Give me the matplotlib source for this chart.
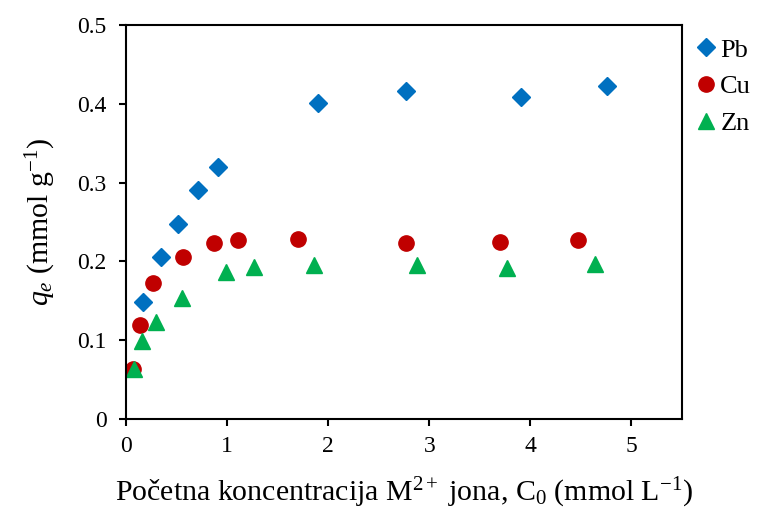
import matplotlib.pyplot as plt

plt.rcParams['font.family'] = ['Liberation Serif', 'DejaVu Serif']
plt.rcParams['mathtext.fontset'] = 'custom'
plt.rcParams['mathtext.rm'] = 'Liberation Serif'
plt.rcParams['mathtext.it'] = 'Liberation Serif:italic'

# initial concentration C0 (mmol/L) and uptake qe (mmol/g)
pb_c0 = [0.17, 0.35, 0.51, 0.71, 0.91, 1.90, 2.77, 3.91, 4.76]
pb_qe = [0.148, 0.206, 0.248, 0.291, 0.320, 0.401, 0.416, 0.409, 0.422]

cu_c0 = [0.07, 0.14, 0.27, 0.56, 0.87, 1.11, 1.70, 2.77, 3.70, 4.47]
cu_qe = [0.064, 0.119, 0.172, 0.206, 0.223, 0.227, 0.228, 0.223, 0.225, 0.227]

zn_c0 = [0.08, 0.16, 0.30, 0.55, 0.99, 1.27, 1.86, 2.88, 3.77, 4.64]
zn_qe = [0.064, 0.099, 0.123, 0.154, 0.187, 0.193, 0.195, 0.195, 0.192, 0.197]

x_ticks = [0, 1, 2, 3, 4, 5]
y_ticks = [0, 0.1, 0.2, 0.3, 0.4, 0.5]
y_tick_labels = ['0', '0.1', '0.2', '0.3', '0.4', '0.5']

fig = plt.figure(figsize=(7.6, 5.13), dpi=100)
ax = fig.add_axes([0.1658, 0.1832, 0.7316, 0.7681])

ax.plot(pb_c0, pb_qe, linestyle='none', marker='D', markersize=9,
        color='#0070C0', label='Pb')
ax.plot(cu_c0, cu_qe, linestyle='none', marker='o', markersize=11,
        color='#C00000', label='Cu')
ax.plot(zn_c0, zn_qe, linestyle='none', marker='^', markersize=11.5,
        color='#00B050', label='Zn')

ax.set_xlim(0, 5.5)
ax.set_ylim(0, 0.5)
ax.set_xticks(x_ticks)
ax.set_yticks(y_ticks)
ax.set_yticklabels(y_tick_labels)
ax.tick_params(direction='out', length=5, width=1.5, labelsize=17)
ax.tick_params(axis='x', pad=7)
ax.tick_params(axis='y', pad=9)
for s in ax.spines.values():
    s.set_linewidth(1.5)

ax.set_xlabel('Početna koncentracija M$^{2+}$ jona, C$_0$ (mmol L$^{-1}$)',
              fontsize=21.5, labelpad=14)
ax.set_ylabel('$q_e$ (mmol g$^{-1}$)', fontsize=21.5, labelpad=14)

ax.legend(loc='upper left', bbox_to_anchor=(1.0, 1.0), frameon=False,
          fontsize=19, handlelength=0.8, handletextpad=0.15,
          labelspacing=0.5, borderaxespad=0.2, borderpad=0.3)

fig.savefig('out.png', dpi=100)
